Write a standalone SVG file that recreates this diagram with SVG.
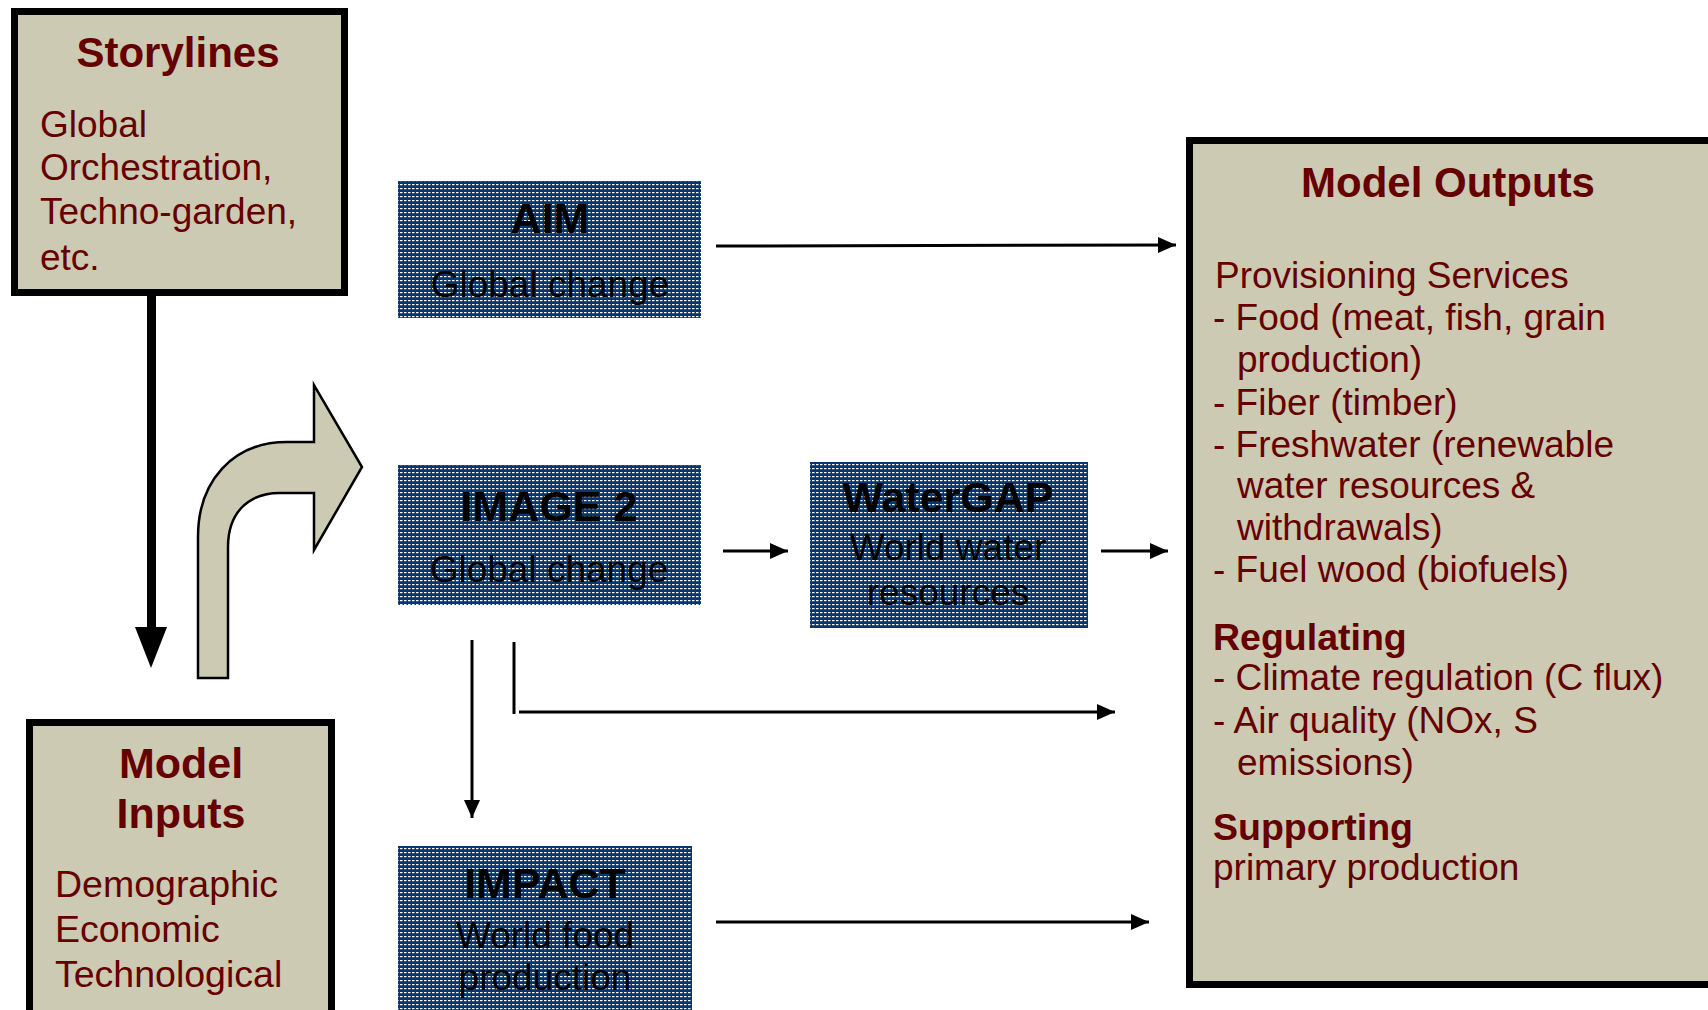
<svg xmlns="http://www.w3.org/2000/svg" width="1708" height="1010" viewBox="0 0 1708 1010">
  <defs>
    <!-- dotted navy fill used by the model boxes -->
    <pattern id="dots" width="4" height="4" patternUnits="userSpaceOnUse">
      <rect width="4" height="4" fill="#07366E"/>
      <rect x="0" y="0" width="2.5" height="1.2" fill="#FFFFFF"/>
    </pattern>
    <marker id="head" markerUnits="userSpaceOnUse" markerWidth="20" markerHeight="16" refX="18" refY="8" orient="auto">
      <path d="M0,0 L18,8 L0,16 Z" fill="#000"/>
    </marker>
    <style>
      .panel { fill: #CCCAB2; stroke: #000; stroke-width: 7; }
      .model { fill: url(#dots); }
      .t { font-family: "Liberation Sans", Arial, sans-serif; fill: #660000; font-size: 37px; }
      .h { font-family: "Liberation Sans", Arial, sans-serif; fill: #660000; font-size: 42px; font-weight: bold; }
      .mt { font-family: "Liberation Sans", Arial, sans-serif; fill: #000; font-size: 43px; font-weight: bold; text-anchor: middle; }
      .mb { font-family: "Liberation Sans", Arial, sans-serif; fill: #000; font-size: 37px; text-anchor: middle; }
      .ln { stroke: #000; stroke-width: 3; fill: none; }
    </style>
  </defs>

  <rect width="1708" height="1010" fill="#FFFFFF"/>

  <!-- Storylines -->
  <g id="storylines">
    <rect class="panel" x="14.5" y="11.5" width="330" height="281"/>
    <text class="h" x="178" y="67" text-anchor="middle">Storylines</text>
    <text class="t" x="40" y="137">Global</text>
    <text class="t" x="40" y="180">Orchestration,</text>
    <text class="t" x="40" y="224">Techno-garden,</text>
    <text class="t" x="40" y="270">etc.</text>
  </g>

  <!-- Model Inputs -->
  <g id="model-inputs">
    <rect class="panel" x="29.5" y="722.5" width="302" height="310"/>
    <text class="h" x="181" y="778" text-anchor="middle" style="font-size:43px">Model</text>
    <text class="h" x="181" y="828" text-anchor="middle" style="font-size:43px">Inputs</text>
    <text class="t" x="55" y="897" style="font-size:37.5px">Demographic</text>
    <text class="t" x="55" y="942" style="font-size:37.5px">Economic</text>
    <text class="t" x="55" y="987" style="font-size:37.5px">Technological</text>
  </g>

  <!-- Model boxes -->
  <g id="aim">
    <rect class="model" x="398" y="181" width="303" height="137"/>
    <text class="mt" x="550" y="233">AIM</text>
    <text class="mb" x="550" y="297">Global change</text>
  </g>
  <g id="image2">
    <rect class="model" x="398" y="465" width="303" height="140"/>
    <text class="mt" x="549" y="521">IMAGE 2</text>
    <text class="mb" x="549" y="582">Global change</text>
  </g>
  <g id="watergap">
    <rect class="model" x="810" y="462" width="278" height="166"/>
    <text class="mt" x="948" y="512">WaterGAP</text>
    <text class="mb" x="948" y="560">World water</text>
    <text class="mb" x="948" y="605">resources</text>
  </g>
  <g id="impact">
    <rect class="model" x="398" y="846" width="294" height="170"/>
    <text class="mt" x="545" y="898">IMPACT</text>
    <text class="mb" x="545" y="948">World food</text>
    <text class="mb" x="545" y="990">production</text>
  </g>

  <!-- Model Outputs -->
  <g id="model-outputs">
    <rect class="panel" x="1189.5" y="140.5" width="560" height="844"/>
    <text class="h" x="1448" y="197" text-anchor="middle">Model Outputs</text>
    <text class="t" x="1215" y="288">Provisioning Services</text>
    <text class="t" x="1213" y="330">- Food (meat, fish, grain</text>
    <text class="t" x="1237" y="372">production)</text>
    <text class="t" x="1213" y="415">- Fiber (timber)</text>
    <text class="t" x="1213" y="457">- Freshwater (renewable</text>
    <text class="t" x="1237" y="498">water resources &amp;</text>
    <text class="t" x="1237" y="540">withdrawals)</text>
    <text class="t" x="1213" y="582">- Fuel wood (biofuels)</text>
    <text class="h" x="1213" y="650" style="font-size:37.5px">Regulating</text>
    <text class="t" x="1213" y="690">- Climate regulation (C flux)</text>
    <text class="t" x="1213" y="733">- Air quality (NOx, S</text>
    <text class="t" x="1237" y="775">emissions)</text>
    <text class="h" x="1213" y="840" style="font-size:37.5px">Supporting</text>
    <text class="t" x="1213" y="880">primary production</text>
  </g>

  <!-- Connectors -->
  <g id="connectors">
    <!-- storylines feed the model inputs -->
    <rect x="147" y="296" width="9" height="334" fill="#000"/>
    <polygon points="135,627 167,627 151,668" fill="#000"/>
    <!-- inputs drive the models -->
    <path d="M198,678 L198,537 C198,482 232,442 287,442 L314,442 L314,385 L362,467 L314,550 L314,493 L280,493 C246,493 228,515 228,547 L228,678 Z"
          fill="#CCCAB2" stroke="#000" stroke-width="2.5" stroke-linejoin="miter"/>
    <line class="ln" x1="716" y1="246" x2="1176" y2="245" marker-end="url(#head)"/>
    <line class="ln" x1="723" y1="551" x2="788" y2="551" marker-end="url(#head)"/>
    <line class="ln" x1="1101" y1="551" x2="1168" y2="551" marker-end="url(#head)"/>
    <line class="ln" x1="472" y1="640" x2="472" y2="818" stroke-width="3.5" marker-end="url(#head)"/>
    <line class="ln" x1="514" y1="642" x2="514" y2="714" stroke-width="2.5"/>
    <line class="ln" x1="519" y1="712" x2="1115" y2="712" marker-end="url(#head)"/>
    <line class="ln" x1="716" y1="922" x2="1149" y2="922" stroke-width="4.5" marker-end="url(#head)"/>
  </g>
</svg>
